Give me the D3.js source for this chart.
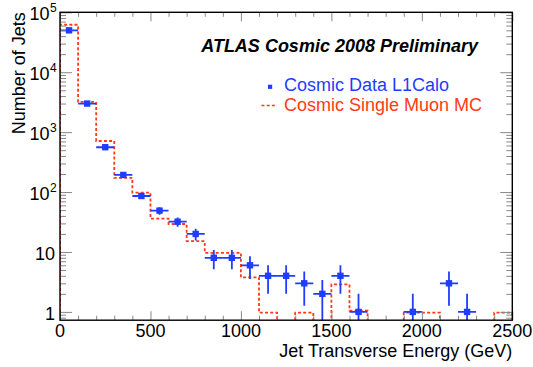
<!DOCTYPE html>
<html>
<head>
<meta charset="utf-8">
<script src="https://cdn.jsdelivr.net/npm/d3@7"></script>
<style>
  html, body { margin: 0; padding: 0; background: #fff; }
  svg { display: block; font-family: "Liberation Sans", Arial, Helvetica, sans-serif; }
</style>
</head>
<body>
<svg id="chart" width="533" height="367"></svg>
<script>
// Jet transverse energy bins (GeV): lower edges, 100 GeV wide
const binEdges = d3.range(0, 2600, 100);
// Cosmic data (L1Calo) entries per bin
const dataCounts = [50000, 3000, 560, 193, 86, 49, 32, 20, 8, 8, 6, 4, 4, 3, 2, 4, 1, 0, 0, 1, 0, 3, 1, 0, 0];
// Single-muon Monte Carlo, normalised, per bin
const mcCounts = [62000, 3200, 712, 172, 98, 36, 29.3, 15.2, 9.7, 9.7, 3.76, 0.97, 0, 0.97, 0, 2.87, 1.05, 0, 0, 0.97, 0.97, 0, 0, 0, 0.97];
// Axis ticks
const xMajorTicks = [0, 500, 1000, 1500, 2000, 2500];
const yDecades = [1, 10, 100, 1000, 10000, 100000];
const yLabels = ["1", "10", "10|2", "10|3", "10|4", "10|5"];

const blue = "#1f3cff";
const red = "#ff3a14";

const svg = d3.select("#chart");
const frameL = 60, frameR = 512.3, frameT = 12.3, frameB = 320.2;

const x = d3.scaleLinear().domain([0, 2500]).range([frameL, frameR]);
const y = d3.scaleLog().domain([0.727, 1e5]).range([frameB, frameT]);

svg.append("defs").append("clipPath").attr("id", "plotClip")
  .append("rect").attr("x", frameL).attr("y", frameT)
  .attr("width", frameR - frameL).attr("height", frameB - frameT);

const plot = svg.append("g").attr("clip-path", "url(#plotClip)");

// MC histogram as a dashed step outline; empty bins fall to the frame bottom
const yClamp = v => v > 0 ? y(v) : frameB + 2;
const stepPts = [[x(0), frameB + 2]];
mcCounts.forEach((v, i) => {
  stepPts.push([x(binEdges[i]), yClamp(v)]);
  stepPts.push([x(binEdges[i + 1]), yClamp(v)]);
});
stepPts.push([x(2500), frameB + 2]);
plot.append("path")
  .attr("d", d3.line()(stepPts))
  .attr("fill", "none")
  .attr("stroke", red)
  .attr("stroke-width", 1.8)
  .attr("stroke-dasharray", "3,2.2");

// Data points with bin-width and sqrt(N) error bars
const dataPts = dataCounts.map((n, i) => ({ n, lo: binEdges[i], hi: binEdges[i + 1] })).filter(d => d.n > 0);
const g = plot.append("g");
dataPts.forEach(d => {
  const cx = x((d.lo + d.hi) / 2), cy = y(d.n);
  const e = Math.sqrt(d.n);
  const yHi = y(d.n + e);
  const yLo = d.n - e > 0 ? y(d.n - e) : frameB + 5;
  g.append("line").attr("x1", x(d.lo)).attr("x2", x(d.hi)).attr("y1", cy).attr("y2", cy)
    .attr("stroke", blue).attr("stroke-width", 1.8);
  g.append("line").attr("x1", cx).attr("x2", cx).attr("y1", yHi).attr("y2", yLo)
    .attr("stroke", blue).attr("stroke-width", 1.8);
  g.append("rect").attr("x", cx - 3.2).attr("y", cy - 3.2).attr("width", 6.4).attr("height", 6.4)
    .attr("fill", blue);
});

// Axes: ticks drawn inward on all four sides
const tickColor = "#888";
function styleAxis(sel) {
  sel.select(".domain").remove();
  sel.selectAll(".tick line").attr("stroke", tickColor).attr("stroke-width", 1);
  sel.selectAll(".tick text").remove();
}
const xMinor = d3.range(0, 2501, 100).filter(v => v % 500 !== 0);
[[d3.axisBottom, frameB], [d3.axisTop, frameT]].forEach(([ax, pos]) => {
  svg.append("g").attr("transform", `translate(0,${pos})`)
    .call(ax(x).tickValues(xMajorTicks).tickSize(-9).tickFormat("")).call(styleAxis);
  svg.append("g").attr("transform", `translate(0,${pos})`)
    .call(ax(x).tickValues(xMinor).tickSize(-4.5).tickFormat("")).call(styleAxis);
});
const yMinor = [];
yDecades.forEach(dcd => { for (let k = 2; k <= 9; k++) { if (dcd * k < 1e5) yMinor.push(dcd * k); } });
yMinor.push(0.8, 0.9);
[[d3.axisLeft, frameL], [d3.axisRight, frameR]].forEach(([ax, pos]) => {
  svg.append("g").attr("transform", `translate(${pos},0)`)
    .call(ax(y).tickValues(yDecades).tickSize(-12).tickFormat("")).call(styleAxis);
  svg.append("g").attr("transform", `translate(${pos},0)`)
    .call(ax(y).tickValues(yMinor).tickSize(-6).tickFormat("")).call(styleAxis);
});

// Frame
svg.append("rect").attr("x", frameL).attr("y", frameT).attr("width", frameR - frameL).attr("height", frameB - frameT)
  .attr("fill", "none").attr("stroke", "#000").attr("stroke-width", 1.4);

// Tick labels
svg.append("g").selectAll("text").data(xMajorTicks).join("text")
  .attr("x", d => x(d)).attr("y", 337).attr("text-anchor", "middle")
  .attr("font-size", 18).text(d => d);

yDecades.forEach((dcd, i) => {
  const lab = yLabels[i];
  const ty = y(dcd) + 7.8;
  if (lab.includes("|")) {
    const [base, ex] = lab.split("|");
    svg.append("text").attr("x", 49.5).attr("y", ty).attr("text-anchor", "end")
      .attr("font-size", 18).text(base);
    svg.append("text").attr("x", 50).attr("y", ty - 8).attr("text-anchor", "start")
      .attr("font-size", 12).text(ex);
  } else {
    svg.append("text").attr("x", 55).attr("y", ty).attr("text-anchor", "end")
      .attr("font-size", 18).text(lab);
  }
});

// Axis titles
svg.append("text").attr("x", frameR).attr("y", 357).attr("text-anchor", "end")
  .attr("font-size", 18).text("Jet Transverse Energy (GeV)");
svg.append("text").attr("transform", `translate(25,${frameT}) rotate(-90)`)
  .attr("text-anchor", "end").attr("font-size", 18).text("Number of Jets");

// Title
svg.append("text").attr("x", 478).attr("y", 51.5).attr("text-anchor", "end")
  .attr("font-size", 18).attr("font-weight", "bold").attr("font-style", "italic")
  .text("ATLAS Cosmic 2008 Preliminary");

// Legend
const leg = svg.append("g");
leg.append("rect").attr("x", 268).attr("y", 84.7).attr("width", 4.2).attr("height", 4.2).attr("fill", blue);
leg.append("text").attr("x", 284).attr("y", 90.5).attr("font-size", 18).attr("fill", blue).text("Cosmic Data L1Calo");
leg.append("line").attr("x1", 261.5).attr("x2", 277).attr("y1", 105.5).attr("y2", 105.5)
  .attr("stroke", red).attr("stroke-width", 1.4).attr("stroke-dasharray", "3,2.2");
leg.append("text").attr("x", 284).attr("y", 110.5).attr("font-size", 18).attr("fill", red).text("Cosmic Single Muon MC");
</script>
</body>
</html>
